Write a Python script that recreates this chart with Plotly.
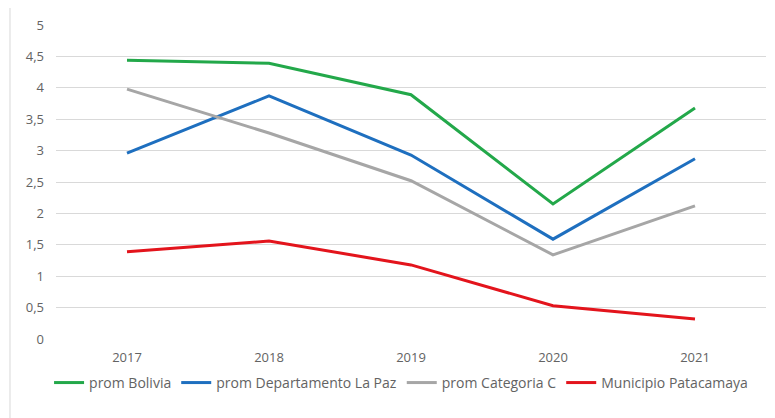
import plotly.graph_objects as go

years = ["2017", "2018", "2019", "2020", "2021"]
prom_bolivia = [4.44, 4.39, 3.89, 2.15, 3.68]
prom_lapaz = [2.96, 3.87, 2.93, 1.59, 2.87]
prom_categoria_c = [3.98, 3.28, 2.52, 1.34, 2.12]
municipio = [1.39, 1.56, 1.18, 0.53, 0.32]

series = [
    ("prom Bolivia", prom_bolivia, "#23a84a"),
    ("prom Departamento La Paz", prom_lapaz, "#1e6fbf"),
    ("prom Categoria C", prom_categoria_c, "#a6a6a6"),
    ("Municipio Patacamaya", municipio, "#e3141c"),
]

fig = go.Figure()
for name, vals, color in series:
    fig.add_trace(go.Scatter(x=years, y=vals, mode="lines", name=name,
                             line=dict(color=color, width=3)))

fig.update_layout(
    width=767, height=410,
    margin=dict(l=48, r=9, t=17, b=79),
    paper_bgcolor="white", plot_bgcolor="white",
    separators=",.",
    font=dict(family="Open Sans, Liberation Sans, sans-serif", size=13, color="#636363"),
    xaxis=dict(type="category", range=[-0.5, 4.5], showgrid=False, showline=False,
               zeroline=False, ticks="", ticklabelstandoff=9,
               tickfont=dict(size=13, color="#636363")),
    yaxis=dict(range=[0, 5], dtick=0.5, showgrid=True, gridcolor="#d9d9d9", gridwidth=1,
               zeroline=False, showline=False, ticks="", ticklabelstandoff=11,
               tickfont=dict(size=13, color="#636363"), tickformat="~g"),
    legend=dict(orientation="h", x=0.486, xanchor="center", y=-0.14, yanchor="middle",
                font=dict(size=14, color="#636363"), itemwidth=30, tracegroupgap=0),
    showlegend=True,
)

fig.add_shape(type="line", xref="paper", yref="paper", x0=-0.0648, x1=1.02, y0=1.0637, y1=1.0637,
              line=dict(color="#d9d9d9", width=1))
fig.add_shape(type="line", xref="paper", yref="paper", x0=-0.0648, x1=-0.0648, y0=1.0637, y1=-0.26,
              line=dict(color="#d9d9d9", width=1))

fig.write_html("out.html")
